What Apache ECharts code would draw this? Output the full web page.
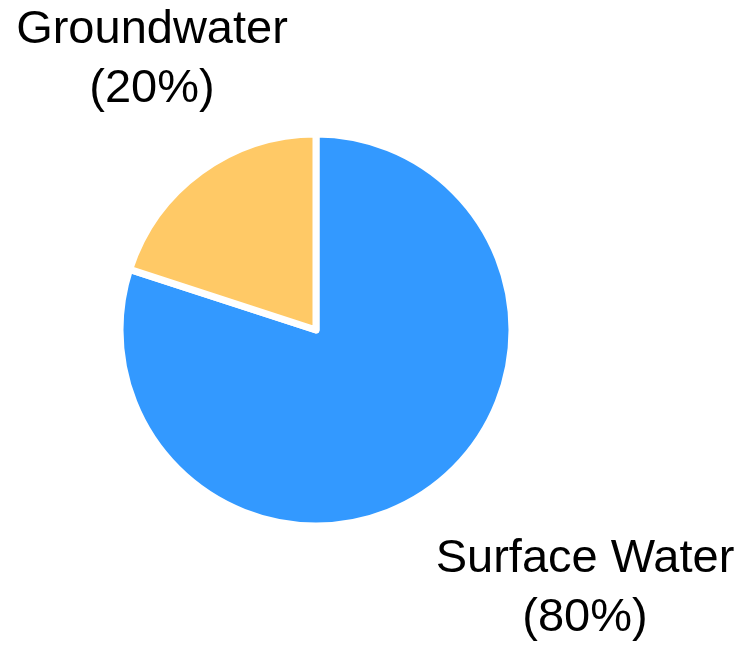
<!DOCTYPE html>
<html>
<head>
<meta charset="utf-8">
<script src="https://cdn.jsdelivr.net/npm/echarts@6/dist/echarts.min.js"></script>
<style>
  html, body { margin: 0; padding: 0; background: #fff; }
  #chart { width: 747px; height: 647px; }
</style>
</head>
<body>
<div id="chart"></div>
<script>
// Water sources, share of total supply (%)
const sources = ['Surface Water', 'Groundwater'];
const shares = [80, 20];
const colors = ['#3399FF', '#FFC966'];

// Label anchor points (block centres) for each slice
const labelSpots = [
  { x: 585, y: 589 },
  { x: 152, y: 60 }
];

const chart = echarts.init(document.getElementById('chart'), null, { renderer: 'canvas' });

chart.setOption({
  animation: false,
  series: [{
    type: 'pie',
    center: [316, 330],
    radius: 196,
    startAngle: 90,
    clockwise: true,
    silent: true,
    data: sources.map((name, i) => ({
      name: name,
      value: shares[i],
      itemStyle: { color: colors[i] }
    })),
    itemStyle: {
      borderColor: '#ffffff',
      borderWidth: 7
    },
    label: {
      show: true,
      position: 'outside',
      formatter: p => p.name + '\n(' + p.value + '%)',
      fontFamily: '"Liberation Sans", Arial, sans-serif',
      fontSize: 47,
      lineHeight: 59,
      color: '#000',
      align: 'center',
      width: 400,
      overflow: 'none'
    },
    labelLine: { show: false },
    labelLayout: params => {
      const s = labelSpots[params.dataIndex];
      return { x: s.x, y: s.y, align: 'center', verticalAlign: 'middle' };
    }
  }]
});
</script>
</body>
</html>
